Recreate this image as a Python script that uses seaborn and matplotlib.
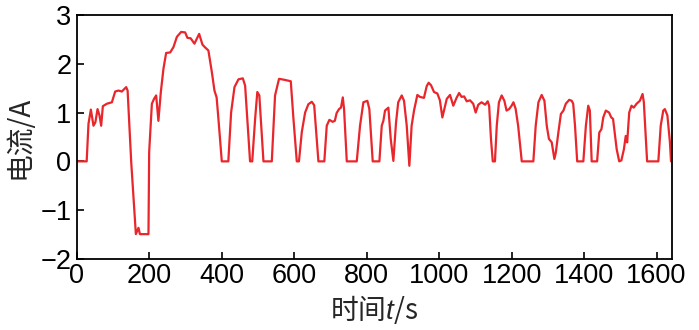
import matplotlib
matplotlib.use("Agg")
import matplotlib.pyplot as plt
import seaborn as sns
import pandas as pd

time_s = [0, 27, 32, 38.6, 45.8, 51, 57, 62.4, 67, 71.7, 82.8, 96.6, 105.7, 114.9, 124, 136, 140,
          150, 162.8, 170, 174, 197.6, 199.5, 207, 213, 218.8, 225, 231.7, 239, 246.4, 257.5, 266.6,
          276, 287.8, 298.9, 305, 314, 324.5, 337.5, 346.6, 353, 363, 372.5, 379.7, 385.7, 390.7,
          400, 418, 425.7, 435, 446, 458, 464.4, 478, 484, 492, 498, 503.6, 515, 538, 547, 558,
          573, 590.4, 597.8, 607, 613, 620.8, 630, 639, 648.4, 655, 666.7, 683, 689.7, 697, 706,
          712, 717, 723.5, 729, 734, 737.5, 745, 772.5, 781.6, 790.8, 801.8, 807.3, 816.6, 835,
          841.5, 846, 850.6, 859.8, 866.3, 873.6, 881, 887, 896.7, 903, 910.5, 917.7, 924, 930.6,
          939.8, 947, 958, 965.6, 971, 977.5, 985.8, 995, 1002, 1008.8, 1021, 1030, 1039, 1048,
          1055, 1062, 1069, 1076, 1085, 1094, 1100.8, 1108, 1117, 1127, 1134, 1138, 1143, 1148,
          1154, 1159, 1165, 1172.6, 1180, 1186, 1193, 1200, 1205, 1211, 1218, 1228, 1260, 1266.5,
          1274, 1283, 1290.6, 1297, 1303, 1310.7, 1318, 1322, 1329, 1336, 1343, 1349.6, 1359,
          1366, 1370, 1375, 1381, 1398, 1405, 1411.5, 1416, 1421, 1436, 1442, 1448, 1453, 1460,
          1469, 1475, 1480, 1490, 1497, 1503, 1510, 1515, 1519, 1524.6, 1531, 1537, 1545, 1554,
          1561.5, 1565, 1574, 1605, 1611.6, 1618.6, 1623, 1630, 1637, 1640]
current_a = [0, 0, 0.77, 1.06, 0.73, 0.80, 1.07, 0.94, 0.73, 1.13, 1.18, 1.21, 1.43, 1.45, 1.43, 1.52, 1.45,
             -0.02, -1.49, -1.36, -1.49, -1.49, 0.19, 1.18, 1.28, 1.35, 0.83, 1.42, 1.90, 2.22, 2.23, 2.34,
             2.55, 2.65, 2.64, 2.53, 2.52, 2.41, 2.61, 2.39, 2.34, 2.27, 1.83, 1.45, 1.31, 0.87,
             0, 0, 1.0, 1.52, 1.68, 1.70, 1.55, 0, 0, 0.87, 1.42, 1.35, 0, 0, 1.35, 1.69,
             1.67, 1.64, 0.87, 0, 0, 0.60, 1.0, 1.17, 1.22, 1.15, 0, 0, 0.73, 0.85, 0.81,
             0.83, 0.99, 1.07, 1.10, 1.31, 1.07, 0, 0, 0.73, 1.21, 1.24, 1.07, 0, 0,
             0.73, 0.83, 1.04, 1.10, 0.46, 0.01, 0.80, 1.21, 1.35, 1.24, 0.73, -0.09, 0.73, 1.04,
             1.36, 1.32, 1.30, 1.54, 1.61, 1.56, 1.42, 1.39, 1.25, 0.90, 1.28, 1.36, 1.14, 1.30,
             1.40, 1.32, 1.33, 1.23, 1.25, 1.18, 1.0, 1.16, 1.21, 1.16, 1.23, 1.14, 0.46, 0.0,
             0.0, 0.73, 1.21, 1.35, 1.24, 1.04, 1.07, 1.14, 1.21, 1.08, 0.73, 0, 0, 0.73,
             1.21, 1.36, 1.24, 0.73, 0.46, 0.39, 0.05, 0.18, 0.59, 0.97, 1.04, 1.18, 1.26,
             1.24, 1.18, 0.73, 0, 0, 0.73, 1.14, 1.04, 0, 0, 0.59, 0.66, 0.90, 1.04,
             1.00, 0.90, 0.87, 0.25, 0, 0.02, 0.25, 0.52, 0.39, 1.0, 1.14, 1.10, 1.18, 1.24,
             1.38, 1.21, 0, 0, 0.73, 1.04, 1.07, 0.94, 0.39, 0]

x_ticks = [0, 200, 400, 600, 800, 1000, 1200, 1400, 1600]
y_ticks = [-2, -1, 0, 1, 2, 3]
x_label = "时间$t$/s"
y_label = "电流/A"

sns.set_style("ticks")
plt.rcParams["font.family"] = ["Liberation Sans", "Noto Sans CJK SC", "DejaVu Sans"]
plt.rcParams["mathtext.fontset"] = "custom"
plt.rcParams["mathtext.it"] = "Liberation Sans:italic"
plt.rcParams["mathtext.rm"] = "Liberation Sans"
plt.rcParams["axes.unicode_minus"] = True

df = pd.DataFrame({"t": time_s, "i": current_a})

fig = plt.figure(figsize=(6.99, 3.30), dpi=100)
ax = fig.add_axes([0.110, 0.215, 0.851, 0.740])
sns.lineplot(data=df, x="t", y="i", ax=ax, color="#E8262B", linewidth=1.6, sort=False)

ax.set_xlim(0, 1642)
ax.set_ylim(-2, 3)
ax.set_xticks(x_ticks)
ax.set_yticks(y_ticks)
ax.set_xticklabels([str(v) for v in x_ticks])
ax.set_yticklabels([str(v).replace("-", "\u2212") for v in y_ticks])
ax.tick_params(direction="in", length=5, width=1.2, labelsize=19.5, colors="black", pad=4)
ax.tick_params(axis="x", pad=3)
for s in ax.spines.values():
    s.set_linewidth(1.3)
    s.set_color("black")
ax.set_xlabel(x_label, fontsize=20, labelpad=3, family=["Noto Sans CJK SC", "Liberation Sans"])
ax.set_ylabel(y_label, fontsize=20, labelpad=4, family=["Noto Sans CJK SC", "Liberation Sans"])

fig.savefig("out.png", dpi=100)
